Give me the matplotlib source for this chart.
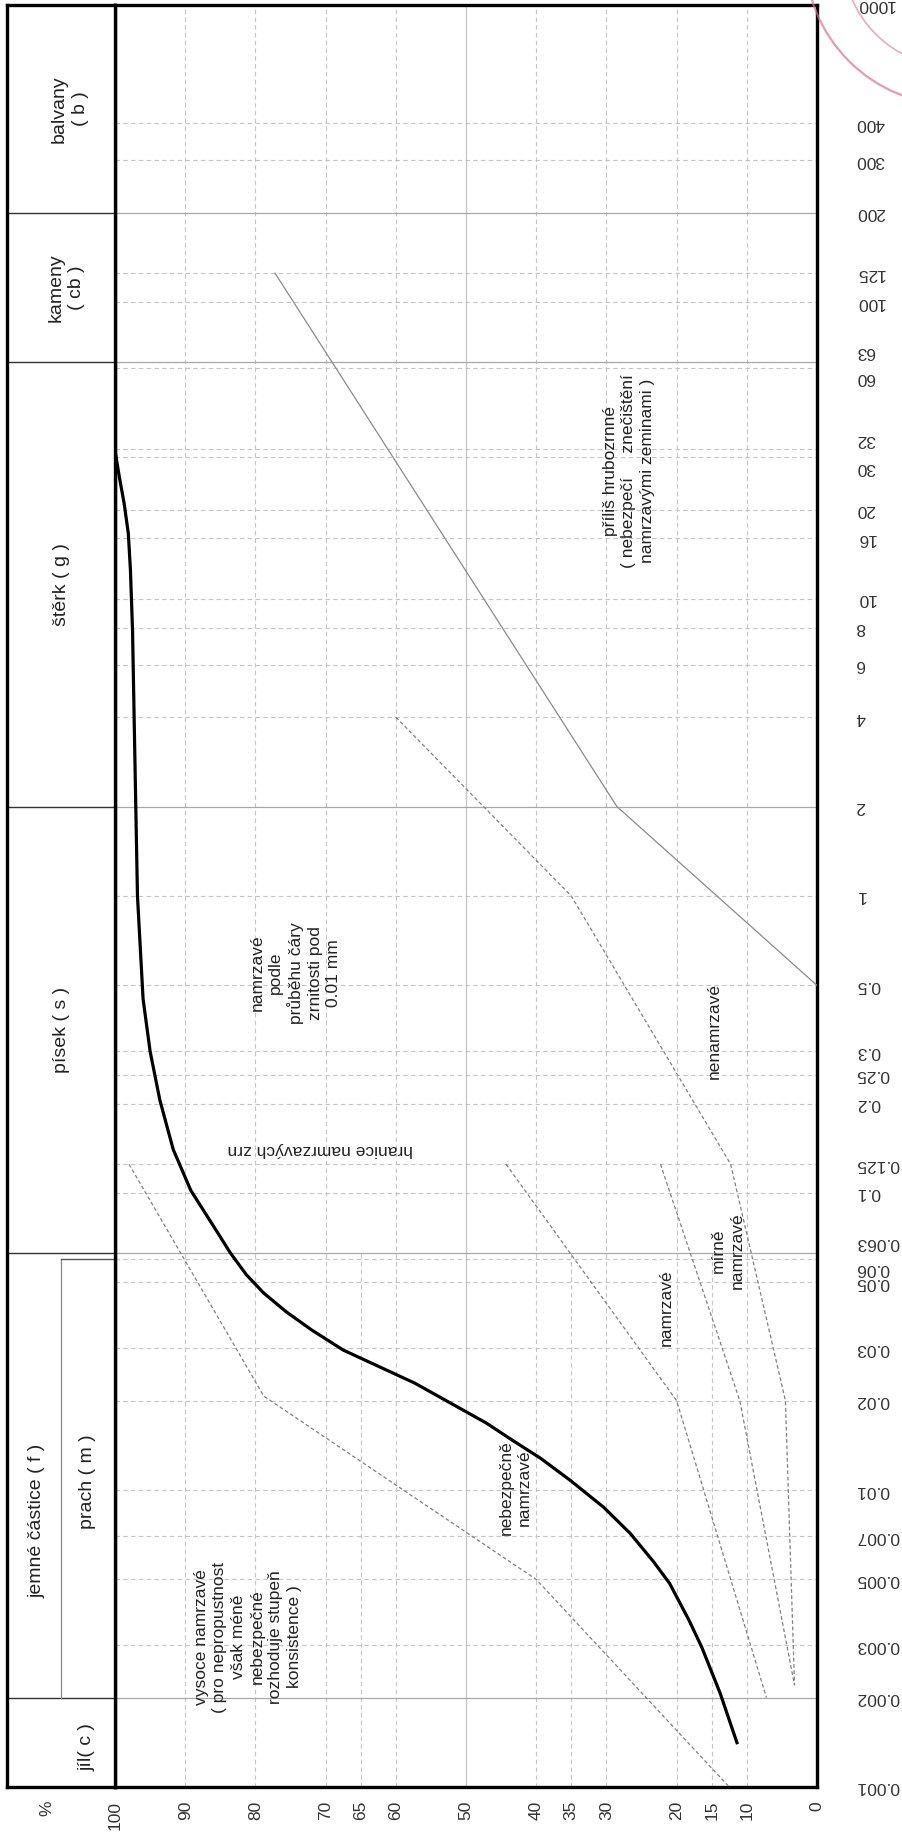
import matplotlib
matplotlib.use("Agg")
import matplotlib.pyplot as plt
from matplotlib.ticker import NullLocator
from matplotlib.patches import Circle

plt.rcParams['font.family'] = ['Liberation Sans', 'DejaVu Sans']

# percent axis (horizontal, 100 on the left)
pct_ticks = [100, 90, 80, 70, 65, 60, 50, 40, 35, 30, 20, 15, 10, 0]
pct_grid = [90, 80, 70, 60, 40, 30, 20, 10]
pct_fines_grid = [65, 35, 15]

# grain size axis (vertical, log)
size_ticks = [0.001, 0.002, 0.003, 0.005, 0.007, 0.01, 0.02, 0.03, 0.05, 0.06, 0.063,
              0.1, 0.125, 0.2, 0.25, 0.3, 0.5, 1, 2, 4, 6, 8, 10, 16, 20, 30, 32,
              60, 63, 100, 125, 200, 300, 400, 1000]
size_labels = ['0.001', '0.002', '0.003', '0.005', '0.007', '0.01', '0.02', '0.03', '0.05',
               '0.06', '0.063', '0.1', '0.125', '0.2', '0.25', '0.3', '0.5', '1', '2', '4',
               '6', '8', '10', '16', '20', '30', '32', '60', '63', '100', '125', '200',
               '300', '400', '1000']
fraction_limits = [0.002, 0.063, 2, 63, 200]

# boundary curve (thick)
hranice_pct = [11.4, 13.8, 16.4, 18.2, 21.0, 23.3, 26.6, 30.4, 35.2, 39.4, 43.3, 47.1,
               57.3, 67.5, 72.0, 75.6, 78.8, 81.3, 83.6, 85.2, 89.2, 91.7, 93.6, 95.0,
               96.0, 96.8, 97.2, 97.5, 97.8, 98.1, 98.7, 99.4, 100]
hranice_mm = [0.00141, 0.00207, 0.00295, 0.00363, 0.00485, 0.00574, 0.00714, 0.00875,
              0.0108, 0.0128, 0.01466, 0.0168, 0.0229, 0.0296, 0.0346, 0.0398, 0.046,
              0.0531, 0.063, 0.0724, 0.102, 0.14, 0.205, 0.3, 0.45, 1.0, 3.2, 7.8, 12.5,
              16.6, 21, 25.9, 31.6]

# dashed class limits
vysoce_pct = [98, 78.8, 40, 12.5]
vysoce_mm = [0.125, 0.0207, 0.005, 0.001]
nebezp_pct = [44.3, 20, 7.2]
nebezp_mm = [0.125, 0.02, 0.002]
mirne_pct = [22.3, 11, 3.2]
mirne_mm = [0.125, 0.02, 0.0022]
nenamrz_pct = [60, 35, 12.3, 4.5, 3.2]
nenamrz_mm = [4, 1, 0.125, 0.02, 0.0022]

# coarse limit (thin solid)
hrubo_pct = [77.2, 28.5, 0]
hrubo_mm = [125, 2, 0.5]

W, H = 902, 1836
# labels of close tick pairs are pushed apart (points)
label_shift = {'0.063': 7, '0.06': -7, '63': 7, '60': -7, '32': 7, '30': -7}


def box(x0, y0, x1, y1):
    return [x0 / W, 1 - y1 / H, (x1 - x0) / W, (y1 - y0) / H]


fig = plt.figure(figsize=(W / 100, H / 100), dpi=100)
fig.patch.set_facecolor('white')

ax = fig.add_axes(box(115, 5, 817, 1787))
ax.set_yscale('log')
ax.set_xlim(100, 0)
ax.set_ylim(0.001, 1000)

grid_kw = dict(color='#c4c4c4', lw=0.8, ls=(0, (4, 3)), zorder=1)
for p in pct_grid:
    ax.axvline(p, **grid_kw)
ax.axvline(50, color='#c4c4c4', lw=0.9, zorder=1)
for p in pct_fines_grid:
    ax.plot([p, p], [0.001, 0.063], **grid_kw)
for s in size_ticks:
    if s in fraction_limits or s in (0.001, 1000):
        continue
    ax.axhline(s, **grid_kw)
for s in fraction_limits:
    ax.axhline(s, color='#a8a8a8', lw=0.9, zorder=1)

dash_kw = dict(color='#808080', lw=0.9, ls=(0, (3, 2)), zorder=3)
ax.plot(vysoce_pct, vysoce_mm, **dash_kw)
ax.plot(nebezp_pct, nebezp_mm, **dash_kw)
ax.plot(mirne_pct, mirne_mm, **dash_kw)
ax.plot(nenamrz_pct, nenamrz_mm, **dash_kw)
ax.plot(hrubo_pct, hrubo_mm, color='#8a8a8a', lw=0.9, zorder=3)
ax.plot(hranice_pct, hranice_mm, color='black', lw=2.3, zorder=4,
        solid_joinstyle='round')

txt_kw = dict(fontsize=12.5, color='#222222', ha='center', va='center',
              multialignment='center', linespacing=1.3, zorder=5)
ax.text(26.8, 27, 'příliš hrubozrnné\n( nebezpečí     znečištění\nnamrzavými zeminami )',
        rotation=90, **txt_kw)
ax.text(74.3, 0.55, 'namrzavé\npodle\nprůběhu čáry\nzrnitosti pod\n0.01 mm',
        rotation=90, **txt_kw)
ax.text(70.7, 0.14, 'hranice namrzavých zrn', rotation=180, **txt_kw)
ax.text(81.1, 0.0032, 'vysoce namrzavé\n( pro nepropustnost\nvšak méně\nnebezpečné\n'
        'rozhoduje stupeň\nkonsistence )', rotation=90, **txt_kw)
ax.text(43.0, 0.0102, 'nebezpečně\nnamrzavé', rotation=90, **txt_kw)
ax.text(21.4, 0.041, 'namrzavé', rotation=90, **txt_kw)
ax.text(12.7, 0.064, 'mírně\nnamrzavé', rotation=90, **txt_kw)
ax.text(14.6, 0.35, 'nenamrzavé', rotation=90, **txt_kw)

ax.set_xticks(pct_ticks)
ax.set_xticklabels([str(p) for p in pct_ticks], rotation=90)
ax.tick_params(axis='x', length=0, pad=10, labelsize=12.5, labelcolor='#333333')
ax.set_yticks(size_ticks)
ax.set_yticklabels([])
ax.yaxis.set_minor_locator(NullLocator())
ax.xaxis.set_minor_locator(NullLocator())
ax.tick_params(axis='y', which='both', length=0, left=False, labelleft=False)
for s, lab in zip(size_ticks, size_labels):
    ax.annotate(lab, xy=(1, s), xycoords=('axes fraction', 'data'),
                xytext=(28, label_shift.get(lab, 0)), textcoords='offset points',
                rotation=180, ha='left', va='center', fontsize=12.5,
                color='#333333', annotation_clip=False)
for sp in ax.spines.values():
    sp.set_linewidth(2.4)

# header with fraction names
hax = fig.add_axes(box(7, 5, 115, 1787))
hax.set_yscale('log')
hax.set_ylim(0.001, 1000)
hax.set_xlim(0, 1)
hax.set_xticks([])
hax.set_yticks([])
hax.yaxis.set_minor_locator(NullLocator())
for sp in hax.spines.values():
    sp.set_linewidth(2.4)
for s in fraction_limits:
    hax.axhline(s, color='#333333', lw=1.0)
hax.plot([0.5, 0.5], [0.002, 0.06], color='#888888', lw=0.9)
hax.plot([0.5, 1.0], [0.06, 0.06], color='#555555', lw=1.0)

head_kw = dict(fontsize=14, color='#222222', ha='center', va='center',
               multialignment='center', rotation=90, linespacing=1.3)
hax.text(0.58, 447, 'balvany\n( b )', **head_kw)
hax.text(0.55, 112, 'kameny\n( cb )', **head_kw)
hax.text(0.5, 11.2, 'štěrk ( g )', **head_kw)
hax.text(0.5, 0.355, 'písek ( s )', **head_kw)
hax.text(0.28, 0.0079, 'jemné částice ( f )', **head_kw)
hax.text(0.75, 0.0107, 'prach ( m )', **head_kw)
hax.text(0.74, 0.00136, 'jíl( c )', **head_kw)

fig.text(47 / W, 1 - 1801 / H, '%', rotation=90, ha='center', va='top',
         fontsize=12.5, color='#333333')

# stamp in the corner
over = fig.add_axes([0, 0, 1, 1])
over.set_xlim(0, W)
over.set_ylim(H, 0)
over.axis('off')
over.add_patch(Circle((955, -45), 150, fill=False, ec='#e07090', lw=1.6, alpha=0.7))
over.add_patch(Circle((955, -45), 112, fill=False, ec='#e07090', lw=1.2, alpha=0.6))

fig.savefig('out.png', dpi=100)
